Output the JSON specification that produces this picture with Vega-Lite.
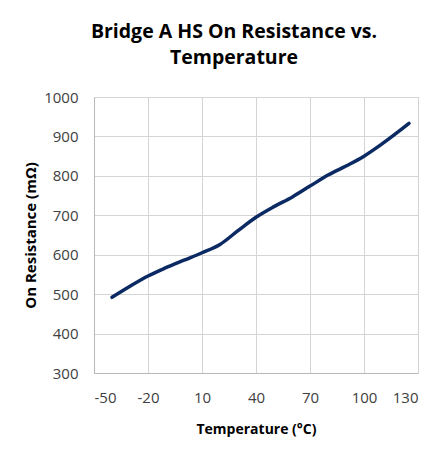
{
  "$schema": "https://vega.github.io/schema/vega-lite/v6.json",
  "width": 324,
  "height": 276,
  "autosize": "none",
  "padding": {"left": 94, "top": 97, "right": 24, "bottom": 77},
  "background": "white",
  "title": {
    "text": ["Bridge A HS On Resistance vs.", "Temperature"],
    "font": "Open Sans",
    "fontSize": 19.5,
    "fontWeight": "bold",
    "color": "#000000",
    "lineHeight": 26,
    "anchor": "middle",
    "dx": -22,
    "offset": 22
  },
  "config": {
    "view": {"stroke": "#c8c8c8", "strokeWidth": 1},
    "axis": {
      "labelFont": "Open Sans",
      "titleFont": "Open Sans",
      "labelColor": "#404040",
      "titleColor": "#000000",
      "gridColor": "#d4d4d4",
      "gridWidth": 1,
      "domainColor": "#b8b8b8",
      "ticks": false
    }
  },
  "data": {
    "values": [
      {"t": -40, "r": 492},
      {"t": -30, "r": 520},
      {"t": -20, "r": 546},
      {"t": -10, "r": 567},
      {"t": 0, "r": 586},
      {"t": 10, "r": 605},
      {"t": 20, "r": 626},
      {"t": 30, "r": 661},
      {"t": 40, "r": 695},
      {"t": 50, "r": 722},
      {"t": 60, "r": 746},
      {"t": 70, "r": 774},
      {"t": 80, "r": 802},
      {"t": 90, "r": 825},
      {"t": 100, "r": 850},
      {"t": 110, "r": 881},
      {"t": 125, "r": 933}
    ]
  },
  "mark": {"type": "line", "interpolate": "monotone", "color": "#0b2a63", "strokeWidth": 3.5, "strokeCap": "round"},
  "encoding": {
    "x": {
      "field": "t",
      "type": "quantitative",
      "scale": {"domain": [-50, 130], "nice": false},
      "axis": {
        "values": [-50, -20, 10, 40, 70, 100, 130],
        "labelExpr": "toString(datum.value)",
        "title": "Temperature (°C)",
        "titleFontSize": 14,
        "titleFontWeight": "bold",
        "titlePadding": 17,
        "labelFontSize": 15,
        "labelPadding": 17
      }
    },
    "y": {
      "field": "r",
      "type": "quantitative",
      "scale": {"domain": [300, 1000], "nice": false},
      "axis": {
        "values": [300, 400, 500, 600, 700, 800, 900, 1000],
        "labelExpr": "toString(datum.value)",
        "title": "On Resistance (mΩ)",
        "titleFontSize": 15,
        "titleFontWeight": "bold",
        "titlePadding": 5,
        "labelFontSize": 15,
        "labelPadding": 16
      }
    }
  }
}
